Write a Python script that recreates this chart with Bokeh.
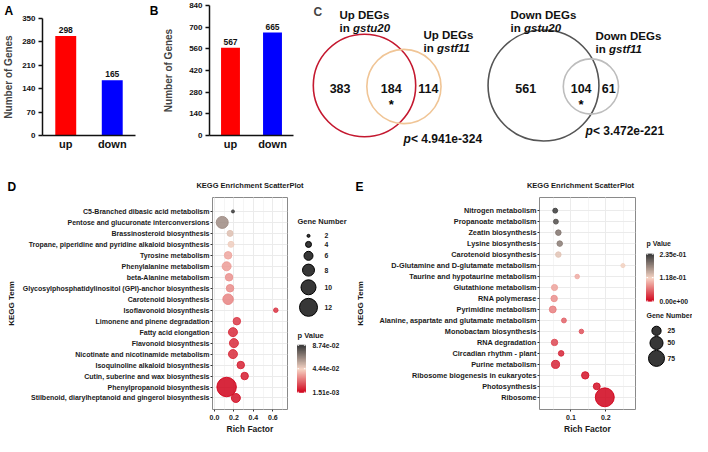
import math
from bokeh.plotting import figure
from bokeh.layouts import row, column
from bokeh.models import (Range1d, FactorRange, Label, FixedTicker, SingleIntervalTicker,
                          ColumnDataSource, PrintfTickFormatter, Title)
from bokeh.core.properties import value
from bokeh.embed import file_html
from bokeh.resources import INLINE

FONT = "Liberation Sans"

# ---------------- data ----------------
bar_categories = ["up", "down"]
a_counts = [298, 165]
b_counts = [567, 665]
a_ticks = [0, 70, 140, 210, 280, 350]
b_ticks = [0, 140, 280, 420, 560, 700, 840]
bar_colors = ["#ff0000", "#0000ff"]

venn_up_counts = [383, 184, 114]      # gstu20 only, both, gstf11 only
venn_down_counts = [561, 104, 61]
venn_up_p = "< 4.941e-324"
venn_down_p = "< 3.472e-221"

d_terms = [
    "C5-Branched dibasic acid metabolism",
    "Pentose and glucuronate interconversions",
    "Brassinosteroid biosynthesis",
    "Tropane, piperidine and pyridine alkaloid biosynthesis",
    "Tyrosine metabolism",
    "Phenylalanine metabolism",
    "beta-Alanine metabolism",
    "Glycosylphosphatidylinositol (GPI)-anchor biosynthesis",
    "Carotenoid biosynthesis",
    "Isoflavonoid biosynthesis",
    "Limonene and pinene degradation",
    "Fatty acid elongation",
    "Flavonoid biosynthesis",
    "Nicotinate and nicotinamide metabolism",
    "Isoquinoline alkaloid biosynthesis",
    "Cutin, suberine and wax biosynthesis",
    "Phenylpropanoid biosynthesis",
    "Stilbenoid, diarylheptanoid and gingerol biosynthesis",
]
d_rich = [0.19, 0.08, 0.16, 0.17, 0.14, 0.125, 0.15, 0.16, 0.14, 0.63, 0.23, 0.19,
          0.20, 0.19, 0.27, 0.31, 0.125, 0.22]
d_genes = [2, 8, 4, 4, 5, 6, 5, 5, 7, 3, 5, 6, 6, 6, 5, 5, 13, 6]
d_pvalue = [0.087378, 0.065, 0.050, 0.046, 0.035, 0.033, 0.031, 0.030, 0.028, 0.012,
            0.013, 0.010, 0.010, 0.010, 0.008, 0.007, 0.001512, 0.005]
d_size_legend = [2, 4, 6, 8, 10, 12]

e_terms = [
    "Nitrogen metabolism",
    "Propanoate metabolism",
    "Zeatin biosynthesis",
    "Lysine biosynthesis",
    "Carotenoid biosynthesis",
    "D-Glutamine and D-glutamate metabolism",
    "Taurine and hypotaurine metabolism",
    "Glutathione metabolism",
    "RNA polymerase",
    "Pyrimidine metabolism",
    "Alanine, aspartate and glutamate metabolism",
    "Monobactam biosynthesis",
    "RNA degradation",
    "Circadian rhythm - plant",
    "Purine metabolism",
    "Ribosome biogenesis in eukaryotes",
    "Photosynthesis",
    "Ribosome",
]
e_rich = [0.055, 0.057, 0.064, 0.068, 0.064, 0.249, 0.118, 0.053, 0.052, 0.048, 0.080,
          0.130, 0.053, 0.072, 0.056, 0.141, 0.174, 0.197]
e_genes = [7, 7, 9, 9, 9, 5, 6, 11, 12, 14, 7, 6, 12, 9, 19, 16, 14, 105]
e_pvalue = [0.2352, 0.22, 0.19, 0.185, 0.13, 0.12, 0.095, 0.09, 0.08, 0.07, 0.055,
            0.045, 0.04, 0.02, 0.02, 0.01, 0.008, 0.0]
e_size_legend = [25, 50, 75]

KEGG_TITLE = "KEGG Enrichment ScatterPlot"
LOW, MID, HIGH = "#d0021b", "#f6d4c4", "#3c3c3c"


def d_size(g):
    return 1.5 * g


def e_size(g):
    return 1.85 * math.sqrt(g)


def hex2rgb(h):
    return tuple(int(h[i:i + 2], 16) for i in (1, 3, 5))


def grad(t):
    t = max(0.0, min(1.0, t))
    if t < 0.5:
        a, b, f = hex2rgb(LOW), hex2rgb(MID), t / 0.5
    else:
        a, b, f = hex2rgb(MID), hex2rgb(HIGH), (t - 0.5) / 0.5
    c = [round(a[i] + (b[i] - a[i]) * f) for i in range(3)]
    return "#%02x%02x%02x" % tuple(c)


def base_fig(**kw):
    p = figure(output_backend="svg", toolbar_location=None, title=None, **kw)
    p.background_fill_color = "white"
    p.border_fill_color = "white"
    return p


# ---------------- A / B bar panels ----------------
def bar_panel(counts, ticks, width, left, right, top, bottom, ylab_standoff):
    p = base_fig(width=width, height=152, x_range=FactorRange(*bar_categories),
                 y_range=Range1d(0, ticks[-1]), min_border_left=left,
                 min_border_right=right, min_border_top=top, min_border_bottom=bottom)
    src = ColumnDataSource(dict(cat=bar_categories, n=counts, color=bar_colors,
                                lab=[str(c) for c in counts]))
    p.vbar(x="cat", top="n", width=0.45, fill_color="color", line_color=None, source=src)
    p.text(x="cat", y="n", text="lab", source=src, y_offset=-3, text_align="center",
           text_baseline="bottom", text_font=value(FONT), text_font_style="bold",
           text_font_size="8.5px", text_color="#111111")
    p.xgrid.visible = False
    p.ygrid.visible = False
    p.outline_line_color = None
    p.yaxis.ticker = FixedTicker(ticks=ticks)
    p.yaxis.minor_tick_line_color = None
    p.yaxis.axis_label = "Number of Genes"
    p.yaxis.axis_label_text_font = FONT
    p.yaxis.axis_label_text_font_style = "bold"
    p.yaxis.axis_label_text_font_size = "10px"
    p.yaxis.axis_label_standoff = ylab_standoff
    for ax in (p.xaxis[0], p.yaxis[0]):
        ax.axis_line_width = 1.5
        ax.axis_line_color = "#111111"
        ax.major_tick_line_width = 1.5
        ax.major_tick_line_color = "#111111"
        ax.major_label_text_font = FONT
        ax.major_label_text_font_style = "bold"
        ax.major_label_text_color = "#111111"
    p.yaxis.major_tick_out = 4
    p.yaxis.major_tick_in = 0
    p.yaxis.major_label_text_font_size = "8px"
    p.yaxis.major_label_standoff = 3
    p.xaxis.major_tick_line_color = None
    p.xaxis.major_tick_out = 0
    p.xaxis.major_tick_in = 0
    p.xaxis.major_label_text_font_size = "11px"
    p.xaxis.major_label_standoff = 2
    return p


pa = bar_panel(a_counts, a_ticks, 160, 42, 25, 18, 15, 5)
pb = bar_panel(b_counts, b_ticks, 140, 39, 7, 5, 17, 12)
# panel letters A and B (B sits above fig A's right margin)
pa.add_layout(Title(text="A" + "\u00a0" * 41 + "B", align="left", offset=-38, standoff=2,
                    text_font=FONT, text_font_style="bold", text_font_size="12px",
                    text_color="#000000"), "above")

# ---------------- C Venn ----------------
K = 2.15


def lens(d, r1, r2):
    if d >= r1 + r2:
        return 0.0
    if d <= abs(r1 - r2):
        return math.pi * min(r1, r2) ** 2
    a = r1 * r1 * math.acos((d * d + r1 * r1 - r2 * r2) / (2 * d * r1))
    b = r2 * r2 * math.acos((d * d + r2 * r2 - r1 * r1) / (2 * d * r2))
    c = 0.5 * math.sqrt((-d + r1 + r2) * (d + r1 - r2) * (d - r1 + r2) * (d + r1 + r2))
    return a + b - c


def solve_d(r1, r2, target):
    lo, hi = abs(r1 - r2) + 1e-6, r1 + r2
    for _ in range(80):
        mid = (lo + hi) / 2
        if lens(mid, r1, r2) > target:
            lo = mid
        else:
            hi = mid
    return (lo + hi) / 2


def venn_geom(counts, cx):
    only_a, both, only_b = counts
    ra = K * math.sqrt(only_a + both)
    rb = K * math.sqrt(both + only_b)
    d = solve_d(ra, rb, math.pi * K * K * both)
    cxb = cx + d
    xs = [((cx - ra) + (cxb - rb)) / 2, ((cxb - rb) + (cx + ra)) / 2,
          ((cx + ra) + (cxb + rb)) / 2]
    return ra, rb, cxb, xs


pc = base_fig(width=392, height=152, x_range=Range1d(300, 692), y_range=Range1d(152, 0),
              min_border=0, x_axis_type=None, y_axis_type=None)
pc.grid.visible = False
pc.outline_line_color = None

CY = 85
venns = [
    (venn_up_counts, 364, "#c4182f", "#f0c596"),
    (venn_down_counts, 543, "#555555", "#bdbdbd"),
]
for counts, cx, col_a, col_b in venns:
    ra, rb, cxb, xs = venn_geom(counts, cx)
    pc.circle(x=[cx], y=[CY], radius=[ra], fill_color=None, line_color=col_a, line_width=1.6)
    pc.circle(x=[cxb], y=[CY + 1], radius=[rb], fill_color=None, line_color=col_b,
              line_width=1.6)
    pc.text(x=xs, y=[88] * 3, text=[str(c) for c in counts], text_align="center",
            text_baseline="middle", text_font=value(FONT), text_font_style="bold",
            text_font_size="12.5px", text_color="#111111")
    pc.text(x=[xs[1]], y=[104], text=["*"], text_align="center", text_baseline="middle",
            text_font=value(FONT), text_font_style="bold", text_font_size="13px",
            text_color="#000000")

set_labels = [
    (339, 14, 27, "Up DEGs", "gstu20"),
    (423, 34.5, 47.5, "Up DEGs", "gstf11"),
    (510, 14, 27, "Down DEGs", "gstu20"),
    (595, 35, 48, "Down DEGs", "gstf11"),
]
for x, y1, y2, head, gene in set_labels:
    pc.text(x=[x], y=[y1], text=[head], text_baseline="alphabetic", text_font=value(FONT),
            text_font_style="bold", text_font_size="11.5px", text_color="#111111")
    pc.text(x=[x], y=[y2], text=["in"], text_baseline="alphabetic", text_font=value(FONT),
            text_font_style="bold", text_font_size="11.5px", text_color="#111111")
    pc.text(x=[x + 13.5], y=[y2], text=[gene], text_baseline="alphabetic",
            text_font=value(FONT), text_font_style="bold italic", text_font_size="11.5px",
            text_color="#111111")

for x, y, ptxt in [(403, 138, venn_up_p), (585, 130, venn_down_p)]:
    pc.text(x=[x], y=[y], text=["p"], text_baseline="alphabetic", text_font=value(FONT),
            text_font_style="bold italic", text_font_size="12px", text_color="#111111")
    pc.text(x=[x + 7.5], y=[y], text=[ptxt], text_baseline="alphabetic",
            text_font=value(FONT), text_font_style="bold", text_font_size="12px",
            text_color="#111111")

pc.add_layout(Label(x=313, y=4, text="C", text_font=FONT, text_font_style="bold",
                    text_font_size="12px", text_baseline="top"))

# ---------------- D / E KEGG scatter panels ----------------
STRIP_TOP_REF = 160          # reference y where the lower row starts
STRIP_H = 44
MAIN_H = 436 - 152 - STRIP_H  # height of the scatter / legend figures
TOP_B, BOT_B = 1, 27
FRAME_TOP_REF, FRAME_BOT_REF = 204, 425   # reference y of the scatter frame


def kegg_panel(terms, rich, genes, pvals, size_fn, xr, yr, width, left, interval,
               lab_standoff, term_font):
    n = len(terms)
    ys = [n - 1 - i for i in range(n)]
    pmin, pmax = min(pvals), max(pvals)
    cols = [grad((p - pmin) / (pmax - pmin)) for p in pvals]
    p = base_fig(width=width, height=MAIN_H, x_range=Range1d(*xr), y_range=Range1d(*yr),
                 min_border_left=left, min_border_right=3, min_border_top=TOP_B,
                 min_border_bottom=BOT_B)
    p.scatter(x=rich, y=ys, size=[size_fn(g) for g in genes], fill_color=cols,
              line_color=cols, fill_alpha=0.85, line_alpha=0.9)
    p.outline_line_color = "#8a8a8a"
    p.outline_line_width = 1
    p.xaxis.ticker = SingleIntervalTicker(interval=interval, num_minor_ticks=2)
    p.xaxis.formatter = PrintfTickFormatter(format="%.1f")
    p.yaxis.ticker = FixedTicker(ticks=ys)
    p.yaxis.major_label_overrides = {y: t for y, t in zip(ys, terms)}
    p.xgrid.grid_line_color = "#ebebeb"
    p.xgrid.minor_grid_line_color = "#f5f5f5"
    p.ygrid.grid_line_color = "#ebebeb"
    for ax in (p.xaxis[0], p.yaxis[0]):
        ax.axis_line_color = None
        ax.minor_tick_line_color = None
        ax.major_tick_line_color = "#333333"
        ax.major_tick_out = 2
        ax.major_tick_in = 0
        ax.major_label_standoff = 1
        ax.major_label_text_font = FONT
        ax.major_label_text_font_style = "bold"
        ax.major_label_text_color = "#1a1a1a"
        ax.axis_label_text_font = FONT
        ax.axis_label_text_font_style = "bold"
        ax.axis_label_text_color = "#1a1a1a"
    p.yaxis.major_label_text_font_size = term_font
    p.xaxis.major_label_text_font_size = "7px"
    p.yaxis.axis_label = "KEGG Term"
    p.yaxis.axis_label_text_font_size = "8px"
    p.yaxis.axis_label_standoff = lab_standoff
    p.xaxis.axis_label = "Rich Factor"
    p.xaxis.axis_label_text_font_size = "8.5px"
    p.xaxis.axis_label_standoff = 1
    return p


def kegg_legend(xr, pvals, sizes, size_fn, cb, lab_x, pv_title, gn_title, size_x,
                size_lab_x, size_y0, gap, title_size):
    pmin, pmax = min(pvals), max(pvals)
    # same borders as the scatter panel, so the frames line up; y in reference pixels
    p = base_fig(width=xr[1] - xr[0], height=MAIN_H, x_range=Range1d(*xr),
                 y_range=Range1d(FRAME_BOT_REF, FRAME_TOP_REF), min_border_left=0,
                 min_border_right=0, min_border_top=TOP_B, min_border_bottom=BOT_B,
                 x_axis_type=None, y_axis_type=None)
    p.grid.visible = False
    p.outline_line_color = None
    cx0, cx1, ctop, cbot = cb
    seg = 64
    tops, bots, cols = [], [], []
    for i in range(seg):
        f0, f1 = i / seg, (i + 1) / seg
        bots.append(cbot - f0 * (cbot - ctop))
        tops.append(cbot - f1 * (cbot - ctop))
        cols.append(grad((f0 + f1) / 2))
    p.quad(left=cx0, right=cx1, top=tops, bottom=bots, fill_color=cols, line_color=cols)
    tvals = [pmax, (pmin + pmax) / 2, pmin]
    tys = [cbot - (v - pmin) / (pmax - pmin) * (cbot - ctop) for v in tvals]
    p.segment(x0=[cx0] * 3, x1=[cx0 + 1.6] * 3, y0=tys, y1=tys, line_color="white")
    p.segment(x0=[cx1 - 1.6] * 3, x1=[cx1] * 3, y0=tys, y1=tys, line_color="white")
    p.text(x=[lab_x] * 3, y=tys, text=[f"{v:.2e}" for v in tvals], text_baseline="middle",
           text_font=value(FONT), text_font_style="bold", text_font_size="6.8px",
           text_color="#1a1a1a")
    p.text(x=[pv_title[0], gn_title[0]], y=[pv_title[1], gn_title[1]],
           text=["p Value", "Gene Number"], text_baseline="middle", text_font=value(FONT),
           text_font_style="bold", text_font_size=title_size, text_color="#1a1a1a")
    ds = [size_fn(s) for s in sizes]
    ys = [size_y0]
    for i in range(1, len(ds)):
        ys.append(ys[-1] + (ds[i - 1] + ds[i]) / 2 + gap)
    p.scatter(x=[size_x] * len(ds), y=ys, size=ds, fill_color="#262626", line_color="#000000",
              fill_alpha=0.92)
    p.text(x=[size_lab_x] * len(ds), y=ys, text=[str(s) for s in sizes],
           text_baseline="middle", text_font=value(FONT), text_font_style="bold",
           text_font_size="6.8px", text_color="#1a1a1a")
    return p


pd_ = kegg_panel(d_terms, d_rich, d_genes, d_pvalue, d_size, (-0.02, 0.75), (-1.05, 18.27),
                 290, 212, 0.2, 4, "7px")
ld = kegg_legend((290, 352), d_pvalue, d_size_legend, d_size, (297, 305, 358, 407), 312,
                 (297, 348), (297, 229), 308, 324, 244, 4.4, "7.5px")
pe = kegg_panel(e_terms, e_rich, e_genes, e_pvalue, e_size, (0.01, 0.285), (-1.11, 18.2),
                286, 173, 0.1, 12, "7.3px")
le = kegg_legend((650, 704), e_pvalue, e_size_legend, e_size, (658, 665, 263, 312), 671,
                 (658, 252), (658, 327), 668, 679, 343, 1.5, "7px")

# strip above D and E holding the panel letters and the plot titles (reference pixels)
strip = base_fig(width=692, height=STRIP_H, x_range=Range1d(0, 692),
                 y_range=Range1d(STRIP_TOP_REF + STRIP_H, STRIP_TOP_REF), min_border=0,
                 x_axis_type=None, y_axis_type=None)
strip.grid.visible = False
strip.outline_line_color = None
strip.text(x=[7, 355], y=[201.5, 201.5], text=["D", "E"], text_baseline="bottom",
           text_font=value(FONT), text_font_style="bold", text_font_size="12px",
           text_color="#000000")
d_frame_center = (212 + 290 - 3) / 2
e_frame_center = 290 + 62 + (173 + 286 - 3) / 2
strip.text(x=[d_frame_center, e_frame_center], y=[193, 193], text=[KEGG_TITLE, KEGG_TITLE],
           text_align="center", text_baseline="middle", text_font=value(FONT),
           text_font_style="bold", text_font_size="7.5px", text_color="#1a1a1a")

top_row = row(column(pa), column(pb), column(pc))
bottom_row = row(column(pd_), column(ld), column(pe), column(le))
layout = column(top_row, strip, bottom_row)
open("out.html", "w").write(file_html(layout, INLINE))
